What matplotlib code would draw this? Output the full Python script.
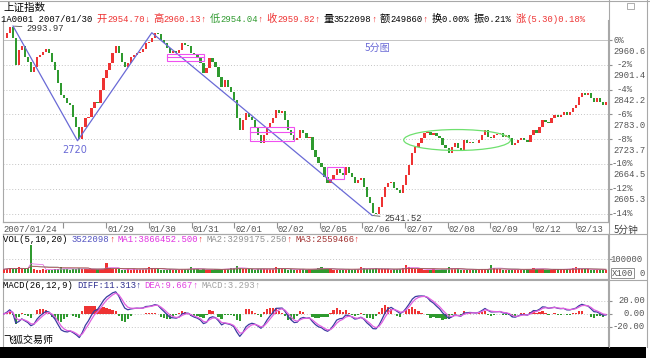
import numpy as np
import pandas as pd
import matplotlib
matplotlib.use('Agg')
import matplotlib.pyplot as plt
from matplotlib.patches import Rectangle, Ellipse
from matplotlib.lines import Line2D

W, H = 650, 361
MONO = ['Liberation Mono', 'Noto Sans CJK SC']
CJK = ['Noto Sans CJK SC', 'DejaVu Sans']
RED = '#ee3333'
GREEN = '#2f9a2f'
GRAY = '#a0a0a0'
BLUE = '#6a6ad6'

# ---- data ---------------------------------------------------------------
# 上证指数 5-minute closes, one sample every ~3.4 bars, 2007/01/24 .. 02/13
close = [
    2965.4, 2977.3, 2992.0, 2965.4, 2900.9, 2936.7, 2946.3, 2920.0, 2908.1, 2884.2,
    2896.1, 2920.0, 2924.8, 2931.9, 2939.1, 2929.6, 2908.1, 2889.0, 2857.9, 2829.3,
    2822.1, 2810.2, 2805.4, 2776.7, 2752.8, 2724.0, 2752.8, 2774.3, 2776.7, 2798.2,
    2812.5, 2810.2, 2841.2, 2869.9, 2889.0, 2905.7, 2929.6, 2946.3, 2929.6, 2908.1,
    2896.1, 2905.7, 2920.0, 2924.8, 2929.6, 2931.9, 2939.1, 2953.4, 2955.8, 2965.4,
    2977.3, 2975.0, 2960.6, 2953.4, 2941.5, 2929.6, 2934.3, 2929.6, 2936.7, 2953.4,
    2948.7, 2946.3, 2929.6, 2924.8, 2920.0, 2905.7, 2881.8, 2893.7, 2917.6, 2908.1,
    2896.1, 2872.2, 2848.4, 2865.1, 2848.4, 2836.4, 2817.3, 2774.3, 2745.7, 2769.6,
    2786.3, 2776.7, 2769.6, 2752.8, 2733.7, 2714.6, 2733.7, 2752.8, 2762.4, 2774.3,
    2793.4, 2786.3, 2791.0, 2769.6, 2745.7, 2733.7, 2721.8, 2726.6, 2745.7, 2738.5,
    2726.6, 2729.0, 2697.9, 2681.2, 2666.9, 2657.3, 2633.4, 2619.1, 2626.3, 2638.2,
    2652.6, 2643.0, 2638.2, 2657.3, 2643.0, 2633.4, 2619.1, 2626.3, 2631.1, 2609.6,
    2585.7, 2571.4, 2547.5, 2545.0, 2561.8, 2585.7, 2609.6, 2619.1, 2621.5, 2607.2,
    2602.4, 2595.2, 2614.4, 2638.2, 2662.1, 2690.8, 2705.1, 2714.6, 2726.6, 2738.5,
    2740.9, 2733.7, 2738.5, 2731.0, 2726.6, 2709.9, 2702.7, 2690.8, 2705.1, 2714.6,
    2702.7, 2697.9, 2721.8, 2714.6, 2717.0, 2715.5, 2714.6, 2721.8, 2733.7, 2745.7,
    2729.0, 2726.6, 2733.7, 2736.0, 2738.5, 2729.0, 2733.7, 2726.6, 2709.9, 2714.6,
    2721.8, 2726.6, 2721.8, 2717.0, 2733.7, 2745.7, 2738.5, 2752.8, 2769.6, 2764.8,
    2762.4, 2774.3, 2781.5, 2776.7, 2781.5, 2788.7, 2781.5, 2788.7, 2798.2, 2805.4,
    2824.5, 2834.0, 2829.3, 2834.0, 2822.1, 2812.5, 2822.1, 2812.5, 2805.4, 2812.5,
]
# volume (x100)
volume = [
    26000, 30000, 34000, 28000, 30000, 42000, 30000, 27000, 33000, 195000,
    26000, 24000, 22000, 25000, 23000, 21000, 24000, 26000, 30000, 38000,
    30000, 26000, 24000, 28000, 30000, 34000, 29000, 27000, 25000, 26000,
    28000, 25000, 27000, 30000, 66000, 35000, 30000, 27000, 25000, 24000,
    23000, 25000, 24000, 26000, 25000, 27000, 29000, 31000, 40000, 33000,
    30000, 26000, 24000, 22000, 23000, 25000, 24000, 22000, 23000, 26000,
    28000, 30000, 38000, 30000, 26000, 24000, 25000, 23000, 22000, 24000,
    25000, 27000, 26000, 28000, 30000, 33000, 36000, 45000, 32000, 30000,
    27000, 25000, 26000, 24000, 28000, 30000, 27000, 25000, 26000, 28000,
    40000, 32000, 28000, 26000, 24000, 25000, 23000, 24000, 26000, 25000,
    24000, 26000, 28000, 30000, 33000, 42000, 30000, 27000, 25000, 24000,
    23000, 24000, 22000, 23000, 25000, 24000, 26000, 28000, 38000, 32000,
    28000, 26000, 30000, 33000, 29000, 27000, 25000, 26000, 24000, 25000,
    27000, 30000, 34000, 58000, 38000, 32000, 28000, 26000, 25000, 24000,
    23000, 24000, 25000, 23000, 24000, 26000, 28000, 40000, 31000, 27000,
    25000, 24000, 23000, 22000, 24000, 23000, 22000, 24000, 25000, 26000,
    30000, 52000, 34000, 28000, 26000, 24000, 23000, 22000, 24000, 23000,
    22000, 23000, 24000, 25000, 27000, 36000, 30000, 27000, 25000, 24000,
    23000, 24000, 25000, 26000, 25000, 27000, 28000, 30000, 33000, 38000,
    32000, 28000, 26000, 25000, 24000, 23000, 24000, 22000, 23000, 21000,
]
start_day = 0.6      # day 0 = 2007/01/24
pt_days = 0.0709     # sampling interval in trading days

tick_days = [2, 3, 4, 5, 6, 7, 8, 9, 10, 11, 12, 13, 14]
tick_labels = ['', '01/29', '01/30', '01/31', '02/01', '02/02', '02/05',
               '02/06', '02/07', '02/08', '02/09', '02/12', '02/13']

base = 2960.59
pct_levels = [0, -2, -4, -6, -8, -10, -12, -14]

pivot_day = [0.82, 2.33, 4.07, 9.23]
pivot_price = [2993.97, 2720.0, 2978.0, 2541.52]

# (day0, day1, low, high, inner line)
boxes = [(4.43, 5.29, 2910.5, 2927.2, 2919.0),
         (6.37, 7.40, 2719.4, 2753.6, 2741.6),
         (8.17, 8.57, 2628.7, 2657.3, None)]
ellipse_c = (11.22, 2721.8)
ellipse_wh = (2.50, 50.0)

# ---- derived --------------------------------------------------------------
close = np.array(close)
volume = np.array(volume, dtype=float)
n = len(close)
x = start_day + np.arange(n) * pt_days
prev = np.r_[close[0], close[:-1]]
up = close >= prev
cols = np.where(up, RED, GREEN)

bars_per_pt = 48 * pt_days
s = pd.Series(close)
ema12 = s.ewm(span=12 / bars_per_pt, adjust=False).mean()
ema26 = s.ewm(span=26 / bars_per_pt, adjust=False).mean()
diff = ema12 - ema26
dea = diff.ewm(span=max(9 / bars_per_pt, 1.0), adjust=False).mean()
hist = 2 * (diff - dea)

vs = pd.Series(volume)
ma1 = vs.rolling(5, min_periods=1).mean()
ma2 = vs.rolling(10, min_periods=1).mean()
ma3 = vs.rolling(20, min_periods=1).mean()

# ---- figure ---------------------------------------------------------------
fig = plt.figure(figsize=(6.5, 3.61), dpi=100)
fig.patch.set_facecolor('white')


def rect(l, t, r, b):
    return [l / W, 1 - b / H, (r - l) / W, (b - t) / H]


def fx(px):
    return px / W


def fy(py):
    return 1 - py / H


def char_w(c):
    if c in '↑↓':
        return 9.0
    return 10.6 if ord(c) > 0x2e80 else 5.3


def runs(txt):
    out = []
    for c in txt:
        cj = ord(c) > 0x2e80
        if out and out[-1][1] == cj:
            out[-1][0] += c
        else:
            out.append([c, cj])
    return out


def seg_text(x0, y0, parts):
    xx = x0
    for txt, col in parts:
        for run, cj in runs(txt):
            fig.text(fx(xx), fy(y0), run, color=col, va='center', ha='left',
                     fontsize=7.4 if cj else 6.4, family=CJK if cj else MONO)
            xx += sum(char_w(c) for c in run)


ax = fig.add_axes(rect(3, 20, 608, 222))
axv = fig.add_axes(rect(3, 234, 608, 279))
axm = fig.add_axes(rect(3, 279, 608, 347))
xlim = (0.585, 14.754)
for a in (ax, axv, axm):
    a.set_xlim(*xlim)
    a.set_facecolor('white')
    for sp in a.spines.values():
        sp.set_color('#a8a8a8')
        sp.set_linewidth(0.8)
    a.yaxis.tick_right()
    a.tick_params(axis='y', length=3, color='#909090', labelright=False, labelleft=False)

# main price panel
ax.spines['top'].set_visible(False)
ax.set_ylim(2526.0, 3008.4)
levels = [base * (1 + p / 100) for p in pct_levels]
ax.set_yticks(levels)
for p, lv in zip(pct_levels, levels):
    ls = '-' if p == 0 else (0, (1, 2))
    ax.axhline(lv, color='#c4c4c4', lw=0.7, ls=ls, zorder=0)
    ax.annotate(f'{p}%', xy=(fx(624 if p == 0 else 633), lv),
                xycoords=('figure fraction', 'data'), ha='right', va='center',
                fontsize=6.4, family=MONO, color='#555555', annotation_clip=False)
    if p > -14:
        ax.annotate(f'{lv:.1f}', xy=(fx(613), lv), xytext=(0, -11),
                    xycoords=('figure fraction', 'data'), textcoords='offset pixels',
                    ha='left', va='center', fontsize=6.4, family=MONO,
                    color='#555555', annotation_clip=False)

ax.bar(x, np.maximum(np.abs(close - prev), 0.8), bottom=np.minimum(prev, close),
       width=pt_days * 0.75, color=cols, linewidth=0, zorder=3)

# date axis: tick marks plus labels just right of them
ax.set_xticks(tick_days)
ax.set_xticklabels([])
ax.tick_params(axis='x', direction='out', length=4, color='#909090')
for d, lab in zip(tick_days, tick_labels):
    ax.annotate(lab, xy=(d, 0), xycoords=('data', 'axes fraction'), xytext=(1, -8),
                textcoords='offset pixels', ha='left', va='center', fontsize=6.4,
                family=MONO, color='#555555', annotation_clip=False)

ax.plot(pivot_day, pivot_price, color=BLUE, lw=0.9, zorder=4)
ax.annotate(f'{pivot_price[0]:.2f}', xy=(pivot_day[0], pivot_price[0]), xytext=(13, -2),
            textcoords='offset pixels', ha='left', va='center', fontsize=6.4,
            family=MONO, color='#333333',
            arrowprops=dict(arrowstyle='-', color='#555555', lw=0.6, shrinkA=1, shrinkB=1))
ax.annotate(f'{pivot_price[1]:.0f}', xy=(pivot_day[1], pivot_price[1]), xytext=(-3, -9),
            textcoords='offset pixels', ha='center', va='center', fontsize=7,
            family=['DejaVu Sans'], color=BLUE)
ax.annotate(f'{pivot_price[3]:.2f}', xy=(pivot_day[3], pivot_price[3]), xytext=(12, -3),
            textcoords='offset pixels', ha='left', va='center', fontsize=6.4,
            family=MONO, color='#333333',
            arrowprops=dict(arrowstyle='-', color='#555555', lw=0.6, shrinkA=1, shrinkB=0))
for d0, d1, lo, hi, mid in boxes:
    ax.add_patch(Rectangle((d0, lo), d1 - d0, hi - lo, fill=False, ec='#f050f0', lw=0.8, zorder=5))
    if mid is not None:
        ax.plot([d0, d1], [mid, mid], color='#f050f0', lw=0.8, zorder=5)
ax.add_patch(Ellipse(ellipse_c, ellipse_wh[0], ellipse_wh[1], fill=False, ec='#6ee06e', lw=0.9, zorder=5))
fig.text(fx(365), fy(48), '5分图', color=BLUE, fontsize=7.2, family=CJK, va='center')

# volume panel
axv.set_ylim(-41400, 269000)
axv.set_yticks([100000])
axv.set_xticks([])
axv.axhline(100000, color='#c4c4c4', lw=0.7, ls=(0, (1, 2)), zorder=0)
axv.bar(x, volume, width=pt_days * 0.75, color=cols, linewidth=0, zorder=3)
axv.plot(x, ma1, color='#e060e0', lw=0.5, zorder=4)
axv.plot(x, ma2, color='#a0a0a0', lw=0.5, zorder=4)
axv.plot(x, ma3, color='#a04040', lw=0.5, zorder=4)

# MACD panel
axm.set_ylim(-50.8, 53.8)
axm.set_yticks([20, 0, -20])
axm.set_xticks([])
axm.spines['bottom'].set_visible(False)
for lv in (20, 0, -20):
    axm.axhline(lv, color='#c4c4c4', lw=0.7, ls=(0, (1, 2)), zorder=0)
    axm.annotate(f'{lv:.2f}', xy=(fx(645), lv), xycoords=('figure fraction', 'data'),
                 ha='right', va='center', fontsize=6.4, family=MONO, color='#555555',
                 annotation_clip=False)
axm.bar(x, hist, width=pt_days * 0.75, color=np.where(hist >= 0, RED, GREEN), linewidth=0, zorder=3)
axm.plot(x, diff, color='#3a3aa0', lw=0.9, zorder=4)
axm.plot(x, dea, color='#e060e0', lw=0.9, zorder=4)

# frame lines
for (x0, y0, x1, y1) in [(608.5, 0, 608.5, 347), (646.5, 0, 646.5, 347),
                         (3, 234, 646, 234), (3, 279.5, 646, 279.5), (0, 0.5, 650, 0.5),
                         (3, 222, 608, 222)]:
    fig.add_artist(Line2D([fx(x0), fx(x1)], [fy(y0), fy(y1)], color='#a8a8a8', lw=0.8))
fig.add_artist(Rectangle((fx(627), fy(9)), 7 / W, 6 / H, fill=False, ec='#a0a0a0', lw=0.6))
fig.add_artist(Rectangle((0, fy(358)), fx(646), 11 / H, color='black', lw=0))

# texts
fig.text(fx(3), fy(7.5), '上证指数', fontsize=7.6, family=CJK, va='center', color='black')
seg_text(1, 19, [("1A0001 2007/01/30 ", 'black'), ("开2954.70", RED), ("↓", RED),
                 ("高2960.13", RED), ("↑", RED), ("低2954.04", GREEN), ("↑", RED),
                 ("收2959.82", RED), ("↑", RED), ("量3522098", 'black'), ("↑", RED),
                 ("额249860", 'black'), ("↑", RED), ("换0.00% ", 'black'),
                 ("振0.21% ", 'black'), ("涨(5.30)0.18%", RED)])
seg_text(3, 239.5, [("VOL(5,10,20) ", 'black'), ("3522098", '#5050c0'), ("↑", RED),
                    ("MA1:3866452.500", '#e030e0'), ("↑", RED),
                    ("MA2:3299175.250", '#909090'), ("↑", RED),
                    ("MA3:2559466", '#a03030'), ("↑", RED)])
seg_text(3, 285, [("MACD(26,12,9) ", 'black'), ("DIFF:11.313", '#303090'), ("↑", '#303090'),
                  ("DEA:9.667", '#e040e0'), ("↑", '#e040e0'),
                  ("MACD:3.293", '#a0a0a0'), ("↑", '#a0a0a0')])
fig.text(fx(3), fy(230), '2007/01/24', fontsize=6.4, family=MONO, va='center', color='#555555')
fig.text(fx(614), fy(230), '5分钟', fontsize=7, family=CJK, va='center', color='#444444')
fig.text(fx(610), fy(259), '100000', fontsize=6.4, family=MONO, va='center', color='#555555')
fig.text(fx(612), fy(273), 'X100', fontsize=6.4, family=MONO, va='center', color='#555555',
         bbox=dict(boxstyle='square,pad=0.1', fc='white', ec='#808080', lw=0.6))
fig.text(fx(640), fy(273), '0', fontsize=6.4, family=MONO, va='center', color='#555555')
fig.text(fx(3), fy(340), '飞狐交易师', fontsize=7.2, family=CJK, va='center', color='black')

fig.savefig('out.png', dpi=100)
